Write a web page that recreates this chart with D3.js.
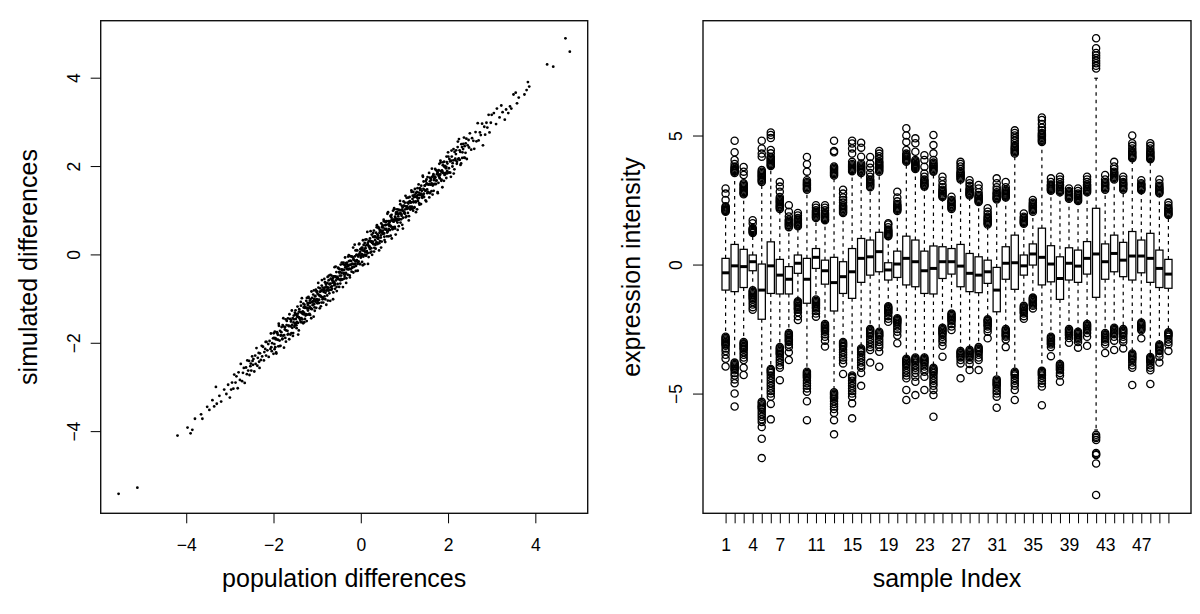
<!DOCTYPE html>
<html>
<head>
<meta charset="utf-8">
<script src="https://cdn.jsdelivr.net/npm/d3@7"></script>
<style>
  body { margin: 0; background: #fff; }
  text { font-family: "Liberation Sans", Arial, Helvetica, sans-serif; fill: #000; }
</style>
</head>
<body>
<svg id="chart" width="1200" height="614"></svg>
<script>
// left panel: population vs simulated differences
const diffPairs = [
  [-5.55,-5.42],[-5.12,-5.28],[-4.2,-4.1],[-3.97,-3.92],[-3.9,-4.05],[-3.86,-3.97],[-3.8,-3.72],[-3.66,-3.62],[-3.63,-3.72],[-3.52,-3.45],[-3.47,-3.52],[-3.4,-3.3],[-3.36,-3.44],[-3.32,-3.0],[-3.3,-3.38],[-3.24,-3.2],[-3.2,-3.33],[-3.13,-3.06],[-3.08,-3.16],[-3.04,-2.95],[-3.0,-3.24],[-2.97,-3.06],
  [-2.95,-2.9],[-2.92,-3.04],[-2.9,-2.72],[-2.87,-2.9],[-2.85,-2.76],[-2.82,-3.03],[-2.8,-2.67],[-2.77,-2.84],[-2.75,-2.48],[-2.72,-2.87],[-2.7,-2.68],[-2.68,-2.57],[-2.66,-2.91],[-2.63,-2.56],[-2.61,-2.71],[-2.6,-2.4],[-2.58,-2.63],[-2.56,-2.41],[-2.55,-2.73],[-2.53,-2.53],[-2.52,-2.47],[-2.51,-2.63],
  [-2.49,-2.31],[-2.47,-2.5],[-2.46,-2.37],[-2.44,-2.65],[-2.42,-2.29],[-2.41,-2.48],[-2.39,-2.12],[-2.37,-2.52],[-2.36,-2.34],[-2.34,-2.23],[-2.32,-2.57],[-2.31,-2.24],[-2.29,-2.39],[-2.27,-2.07],[-2.26,-2.31],[-2.24,-2.09],[-2.22,-2.4],[-2.21,-2.21],[-2.19,-2.14],[-2.17,-2.29],[-2.16,-1.98],[-2.14,-2.17],[-2.12,-2.03],[-2.11,-2.32],[-2.09,-1.96],[-2.07,-2.14],[-2.06,-1.79],[-2.04,-2.19],[-2.03,-2.01],[-2.01,-1.9],[-2.0,-2.25],[-2.48,-2.41],[-2.33,-2.43],[-2.18,-1.98],[-2.05,-2.1],
  [-1.99,-1.89],[-1.98,-2.03],[-1.97,-1.75],[-1.96,-2.1],[-1.95,-1.92],[-1.94,-2.22],[-1.92,-1.76],[-1.91,-1.93],[-1.9,-1.82],[-1.89,-2.08],[-1.88,-1.57],[-1.86,-1.95],[-1.85,-1.73],[-1.84,-2.07],[-1.83,-1.83],[-1.82,-1.76],[-1.8,-1.92],[-1.79,-1.6],[-1.78,-1.84],[-1.77,-1.63],[-1.76,-2.11],[-1.74,-1.7],[-1.73,-1.89],[-1.72,-1.47],[-1.71,-1.72],[-1.7,-1.6],[-1.68,-1.73],[-1.67,-1.45],[-1.66,-1.8],[-1.65,-1.62],[-1.64,-1.92],[-1.62,-1.46],[-1.61,-1.63],[-1.6,-1.52],[-1.59,-1.78],[-1.58,-1.27],[-1.57,-1.66],[-1.56,-1.44],[-1.55,-1.78],[-1.54,-1.54],[-1.53,-1.47],[-1.52,-1.64],[-1.51,-1.32],[-1.5,-1.56],[-1.5,-1.36],
  [-1.49,-1.56],[-1.48,-1.35],[-1.47,-1.67],[-1.46,-1.41],[-1.45,-1.18],[-1.44,-1.55],[-1.43,-1.42],[-1.42,-1.72],[-1.41,-1.24],[-1.4,-1.44],[-1.39,-1.3],[-1.38,-1.53],[-1.37,-1.16],[-1.36,-1.44],[-1.35,-0.99],[-1.34,-1.47],[-1.33,-1.29],[-1.32,-1.56],[-1.31,-1.2],[-1.3,-1.32],[-1.29,-1.14],[-1.28,-1.46],[-1.27,-1.2],[-1.26,-1.36],[-1.25,-1.05],[-1.24,-1.51],[-1.23,-1.21],[-1.22,-1.1],[-1.21,-1.27],[-1.2,-0.96],[-1.19,-1.35],[-1.18,-1.1],[-1.17,-1.18],[-1.16,-1.37],[-1.15,-1.01],[-1.14,-1.23],[-1.13,-0.84],[-1.12,-1.24],[-1.11,-1.08],[-1.1,-1.15],[-1.09,-0.91],[-1.08,-1.41],[-1.07,-1.01],[-1.06,-1.2],[-1.05,-0.95],[-1.04,-1.07],[-1.03,-0.8],[-1.02,-1.21],[-1.01,-1.01],[-1.0,-0.84],
  [-0.99,-0.89],[-0.98,-1.03],[-0.97,-0.75],[-0.96,-1.1],[-0.95,-0.92],[-0.94,-1.22],[-0.93,-0.77],[-0.92,-0.94],[-0.91,-0.83],[-0.9,-1.09],[-0.89,-0.58],[-0.88,-0.97],[-0.87,-0.75],[-0.86,-1.09],[-0.85,-0.85],[-0.84,-0.78],[-0.83,-0.95],[-0.82,-0.63],[-0.81,-0.87],[-0.8,-0.66],[-0.79,-1.14],[-0.78,-0.74],[-0.77,-0.93],[-0.76,-0.51],[-0.75,-0.76],
  [-0.74,-0.75],[-0.73,-0.48],[-0.72,-0.88],[-0.71,-0.67],[-0.7,-1.05],[-0.69,-0.55],[-0.68,-0.74],[-0.67,-0.48],[-0.66,-0.78],[-0.65,-0.59],[-0.64,-0.64],[-0.63,-0.86],[-0.62,-0.5],[-0.61,-0.7],[-0.6,-0.29],[-0.59,-0.78],[-0.58,-0.5],[-0.57,-0.59],[-0.56,-0.4],[-0.55,-0.83],[-0.54,-0.51],[-0.53,-0.67],[-0.52,-0.3],[-0.51,-0.56],[-0.5,-0.4],
  [-0.49,-0.33],[-0.48,-0.48],[-0.47,-0.66],[-0.46,-0.23],[-0.45,-0.48],[-0.44,-0.34],[-0.43,-0.57],[-0.42,-0.36],[-0.41,-0.74],[-0.4,-0.22],[-0.39,-0.44],[-0.38,-0.35],[-0.37,-0.49],[-0.36,-0.07],[-0.35,-0.44],[-0.34,-0.2],[-0.33,-0.54],[-0.32,-0.33],[-0.31,-0.23],[-0.3,-0.46],[-0.29,-0.05],[-0.28,-0.34],[-0.27,-0.15],[-0.26,-0.24],[-0.25,-0.52],[-0.24,-0.04],[-0.23,-0.33],[-0.22,-0.15],[-0.21,-0.39],[-0.2,-0.05],[-0.19,-0.21],[-0.18,-0.07],[-0.17,-0.41],[-0.16,-0.12],[-0.15,-0.28],[-0.14,0.22],[-0.13,-0.21],[-0.12,0.09],[-0.11,-0.26],[-0.1,-0.01],[-0.09,-0.13],[-0.08,0.09],[-0.07,-0.37],[-0.06,-0.05],[-0.05,-0.16],[-0.04,0.23],[-0.03,0.02],[-0.02,-0.22],[-0.01,0.12],[0.0,-0.07],
  [0.01,-0.06],[0.02,0.15],[0.03,-0.17],[0.04,0.09],[0.05,0.32],[0.06,-0.05],[0.07,0.08],[0.08,-0.22],[0.09,0.26],[0.1,0.06],[0.11,0.2],[0.12,-0.03],[0.13,0.34],[0.14,0.06],[0.15,0.51],[0.16,0.03],[0.17,0.21],[0.18,-0.06],[0.19,0.3],[0.2,0.18],[0.21,0.36],[0.22,0.04],[0.23,0.3],[0.24,0.14],[0.25,0.45],[0.26,-0.01],[0.27,0.29],[0.28,0.4],[0.29,0.23],[0.3,0.54],[0.31,0.15],[0.32,0.4],[0.33,0.32],[0.34,0.13],[0.35,0.49],[0.36,0.27],[0.37,0.66],[0.38,0.26],[0.39,0.42],[0.4,0.35],[0.41,0.59],[0.42,0.09],[0.43,0.49],[0.44,0.3],[0.45,0.55],[0.46,0.43],[0.47,0.7],[0.48,0.29],[0.49,0.49],[0.5,0.66],
  [0.51,0.61],[0.52,0.47],[0.53,0.75],[0.54,0.4],[0.55,0.58],[0.56,0.28],[0.57,0.73],[0.58,0.56],[0.59,0.67],[0.6,0.41],[0.61,0.92],[0.62,0.53],[0.63,0.75],[0.64,0.41],[0.65,0.65],[0.66,0.72],[0.67,0.55],[0.68,0.87],[0.69,0.63],[0.7,0.84],[0.71,0.36],[0.72,0.76],[0.73,0.57],[0.74,0.99],[0.75,0.74],
  [0.76,0.75],[0.77,1.02],[0.78,0.62],[0.79,0.83],[0.8,0.45],[0.81,0.95],[0.82,0.76],[0.83,1.02],[0.84,0.72],[0.85,0.91],[0.86,0.86],[0.87,0.64],[0.88,1.0],[0.89,0.8],[0.9,1.21],[0.91,0.72],[0.92,1.0],[0.93,0.91],[0.94,1.1],[0.95,0.67],[0.96,0.99],[0.97,0.83],[0.98,1.2],[0.99,0.94],[1.0,1.1],
  [1.01,1.17],[1.02,1.02],[1.03,0.84],[1.05,1.28],[1.06,1.03],[1.07,1.17],[1.08,0.94],[1.09,1.15],[1.1,0.77],[1.12,1.3],[1.13,1.08],[1.14,1.17],[1.15,1.03],[1.16,1.45],[1.17,1.08],[1.19,1.33],[1.2,0.99],[1.21,1.2],[1.22,1.3],[1.23,1.07],[1.24,1.48],[1.26,1.2],[1.27,1.39],[1.28,1.3],[1.29,1.02],[1.3,1.5],[1.31,1.21],[1.33,1.4],[1.34,1.16],[1.35,1.5],[1.36,1.34],[1.37,1.48],[1.38,1.14],[1.4,1.44],[1.41,1.28],[1.42,1.78],[1.43,1.35],[1.44,1.65],[1.45,1.3],[1.47,1.56],[1.48,1.44],[1.49,1.66],[1.5,1.2],
  [1.51,1.61],[1.52,1.47],[1.53,1.75],[1.55,1.41],[1.56,1.59],[1.57,1.29],[1.58,1.74],[1.6,1.58],[1.61,1.69],[1.62,1.43],[1.63,1.94],[1.65,1.56],[1.66,1.78],[1.67,1.44],[1.68,1.68],[1.7,1.76],[1.71,1.59],[1.72,1.91],[1.73,1.67],[1.75,1.89],[1.76,1.41],[1.77,1.81],[1.78,1.62],[1.8,2.05],[1.81,1.8],
  [1.82,1.81],[1.83,2.08],[1.85,1.69],[1.86,1.9],[1.87,1.52],[1.88,2.02],[1.9,1.84],[1.91,2.1],[1.92,1.8],[1.93,1.99],[1.95,1.95],[1.96,1.73],[1.97,2.09],[1.98,1.89],[2.0,2.31],
  [2.02,1.95],[2.03,2.16],[2.05,1.85],[2.07,2.12],[2.08,2.35],[2.1,1.99],[2.12,2.13],[2.13,1.83],[2.15,2.32],[2.17,2.13],[2.18,2.27],[2.2,2.05],[2.22,2.43],[2.23,2.15],[2.25,2.61],[2.27,2.14],[2.28,2.32],[2.3,2.06],[2.32,2.43],[2.33,2.31],[2.35,2.5],[2.37,2.19],[2.38,2.45],[2.4,2.3],[2.42,2.62],[2.43,2.16],[2.45,2.47],[2.47,2.59],[2.48,2.42],[2.5,2.74],
  [2.53,2.37],[2.55,2.63],[2.58,2.57],[2.6,2.39],[2.63,2.77],[2.65,2.56],[2.68,2.97],[2.7,2.58],[2.73,2.76],[2.75,2.7],[2.78,2.96],[2.8,2.47],[2.83,2.89],[2.85,2.71],[2.88,2.98],[2.9,2.87],[2.93,3.16],[2.95,2.76],[2.98,2.98],[3.0,3.16],
  [3.05,3.2],[3.1,2.95],[3.12,3.3],[3.18,3.1],[3.22,3.37],[3.25,3.22],[3.3,3.05],[3.33,3.28],[3.38,3.2],[3.42,3.35],[3.45,3.3],[3.5,3.62],[3.55,3.66],[3.58,3.42],[3.62,3.55],[3.75,3.62],[3.8,3.72],[3.83,3.9],[3.86,3.8],[4.27,4.3],[4.41,4.25],[4.69,4.89],[4.79,4.59]
];
// extra points filling the dense middle of the cloud
const diffCore = [
  [-1.995,-1.785],[-1.975,-2.145],[-1.955,-1.895],[-1.935,-2.245],[-1.915,-1.785],[-1.895,-1.935],[-1.875,-1.615],[-1.855,-2.075],[-1.835,-1.835],[-1.815,-1.645],[-1.795,-1.905],[-1.775,-1.445],[-1.755,-1.825],[-1.735,-1.645],[-1.715,-1.975],[-1.695,-1.505],[-1.675,-1.815],[-1.655,-1.615],[-1.635,-1.355],[-1.615,-1.815],
  [-1.595,-1.485],[-1.575,-1.595],[-1.555,-1.845],[-1.535,-1.385],[-1.515,-1.605],[-1.495,-1.265],[-1.475,-1.605],[-1.455,-1.385],[-1.435,-1.815],[-1.415,-1.295],[-1.395,-1.455],[-1.375,-1.075],[-1.355,-1.535],[-1.335,-1.315],[-1.315,-1.115],[-1.295,-1.535],[-1.275,-1.195],[-1.255,-1.355],[-1.235,-0.985],[-1.215,-1.365],
  [-1.195,-0.985],[-1.175,-1.345],[-1.155,-1.095],[-1.135,-1.445],[-1.115,-0.985],[-1.095,-1.135],[-1.075,-0.815],[-1.055,-1.275],[-1.035,-1.035],[-1.015,-0.845],[-0.995,-1.105],[-0.975,-0.645],[-0.955,-1.025],[-0.935,-0.845],[-0.915,-1.175],[-0.895,-0.705],[-0.875,-1.015],[-0.855,-0.815],[-0.835,-0.555],[-0.815,-1.015],
  [-0.795,-0.685],[-0.775,-0.795],[-0.755,-1.045],[-0.735,-0.585],[-0.715,-0.805],[-0.695,-0.465],[-0.675,-0.805],[-0.655,-0.585],[-0.635,-1.015],[-0.615,-0.495],[-0.595,-0.655],[-0.575,-0.275],[-0.555,-0.735],[-0.535,-0.515],[-0.515,-0.315],[-0.495,-0.735],[-0.475,-0.395],[-0.455,-0.555],[-0.435,-0.185],[-0.415,-0.565],
  [-0.395,-0.185],[-0.375,-0.545],[-0.355,-0.295],[-0.335,-0.645],[-0.315,-0.185],[-0.295,-0.335],[-0.275,-0.015],[-0.255,-0.475],[-0.235,-0.235],[-0.215,-0.045],[-0.195,-0.305],[-0.175,0.155],[-0.155,-0.225],[-0.135,-0.045],[-0.115,-0.375],[-0.095,0.095],[-0.075,-0.215],[-0.055,-0.015],[-0.035,0.245],[-0.015,-0.215],
  [0.005,0.115],[0.025,0.005],[0.045,-0.245],[0.065,0.215],[0.085,-0.005],[0.105,0.335],[0.125,-0.005],[0.145,0.215],[0.165,-0.215],[0.185,0.305],[0.205,0.145],[0.225,0.525],[0.245,0.065],[0.265,0.285],[0.285,0.485],[0.305,0.065],[0.325,0.405],[0.345,0.245],[0.365,0.615],[0.385,0.235],
  [0.405,0.615],[0.425,0.255],[0.445,0.505],[0.465,0.155],[0.485,0.615],[0.505,0.465],[0.525,0.785],[0.545,0.325],[0.565,0.565],[0.585,0.755],[0.605,0.495],[0.625,0.955],[0.645,0.575],[0.665,0.755],[0.685,0.425],[0.705,0.895],[0.725,0.585],[0.745,0.785],[0.765,1.045],[0.785,0.585],
  [0.805,0.915],[0.825,0.805],[0.845,0.555],[0.865,1.015],[0.885,0.795],[0.905,1.135],[0.925,0.795],[0.945,1.015],[0.965,0.585],[0.985,1.105],[1.005,0.945],[1.025,1.325],[1.045,0.865],[1.065,1.085],[1.085,1.285],[1.105,0.865],[1.125,1.205],[1.145,1.045],[1.165,1.415],[1.185,1.035],
  [1.205,1.415],[1.225,1.055],[1.245,1.305],[1.265,0.955],[1.285,1.415],[1.305,1.265],[1.325,1.585],[1.345,1.125],[1.365,1.365],[1.385,1.555],[1.405,1.295],[1.425,1.755],[1.445,1.375],[1.465,1.555],[1.485,1.225],[1.505,1.695],[1.525,1.385],[1.545,1.585],[1.565,1.845],[1.585,1.385],
  [1.605,1.715],[1.625,1.605],[1.645,1.355],[1.665,1.815],[1.685,1.595],[1.705,1.935],[1.725,1.595],[1.745,1.815],[1.765,1.385],[1.785,1.905],[1.805,1.745],[1.825,2.125],[1.845,1.665],[1.865,1.885],[1.885,2.085],[1.905,1.665],[1.925,2.005],[1.945,1.845],[1.965,2.215],[1.985,1.835],
  [2.005,2.215],[2.025,1.855],[2.045,2.105],[2.065,1.755],[2.085,2.215],[2.105,2.065],[2.125,2.385],[2.145,1.925],[2.165,2.165],[2.185,2.355],[2.205,2.095],[2.225,2.555],[2.245,2.175],[2.265,2.355],[2.285,2.025],[2.305,2.495],[2.325,2.185],[2.345,2.385],[2.365,2.645],[2.385,2.185],[2.405,2.515],
  [-1.49,-1.46],[-1.465,-1.525],[-1.44,-1.34],[-1.415,-1.425],[-1.39,-1.48],[-1.365,-1.315],[-1.34,-1.34],[-1.315,-1.355],[-1.29,-1.21],[-1.265,-1.385],[-1.24,-1.22],[-1.215,-1.145],[-1.19,-1.22],[-1.165,-1.045],[-1.14,-1.22],[-1.115,-1.075],
  [-1.09,-1.06],[-1.065,-1.125],[-1.04,-0.94],[-1.015,-1.025],[-0.99,-1.08],[-0.965,-0.915],[-0.94,-0.94],[-0.915,-0.955],[-0.89,-0.81],[-0.865,-0.985],[-0.84,-0.82],[-0.815,-0.745],[-0.79,-0.82],[-0.765,-0.645],[-0.74,-0.82],[-0.715,-0.675],
  [-0.69,-0.66],[-0.665,-0.725],[-0.64,-0.54],[-0.615,-0.625],[-0.59,-0.68],[-0.565,-0.515],[-0.54,-0.54],[-0.515,-0.555],[-0.49,-0.41],[-0.465,-0.585],[-0.44,-0.42],[-0.415,-0.345],[-0.39,-0.42],[-0.365,-0.245],[-0.34,-0.42],[-0.315,-0.275],
  [-0.29,-0.26],[-0.265,-0.325],[-0.24,-0.14],[-0.215,-0.225],[-0.19,-0.28],[-0.165,-0.115],[-0.14,-0.14],[-0.115,-0.155],[-0.09,-0.01],[-0.065,-0.185],[-0.04,-0.02],[-0.015,0.055],[0.01,-0.02],[0.035,0.155],[0.06,-0.02],[0.085,0.125],
  [0.11,0.14],[0.135,0.075],[0.16,0.26],[0.185,0.175],[0.21,0.12],[0.235,0.285],[0.26,0.26],[0.285,0.245],[0.31,0.39],[0.335,0.215],[0.36,0.38],[0.385,0.455],[0.41,0.38],[0.435,0.555],[0.46,0.38],[0.485,0.525],
  [0.51,0.54],[0.535,0.475],[0.56,0.66],[0.585,0.575],[0.61,0.52],[0.635,0.685],[0.66,0.66],[0.685,0.645],[0.71,0.79],[0.735,0.615],[0.76,0.78],[0.785,0.855],[0.81,0.78],[0.835,0.955],[0.86,0.78],[0.885,0.925],
  [0.91,0.94],[0.935,0.875],[0.96,1.06],[0.985,0.975],[1.01,0.92],[1.035,1.085],[1.06,1.06],[1.085,1.045],[1.11,1.19],[1.135,1.015],[1.16,1.18],[1.185,1.255],[1.21,1.18],[1.235,1.355],[1.26,1.18],[1.285,1.325],
  [1.31,1.34],[1.335,1.275],[1.36,1.46],[1.385,1.375],[1.41,1.32],[1.435,1.485],[1.46,1.46],[1.485,1.445],[1.51,1.59],[1.535,1.415],[1.56,1.58],[1.585,1.655],[1.61,1.58],[1.635,1.755],[1.66,1.58],[1.685,1.725],
  [1.71,1.74],[1.735,1.675],[1.76,1.86],[1.785,1.775],[1.81,1.72],[1.835,1.885],[1.86,1.86],[1.885,1.845],[1.91,1.99],[1.935,1.815],[1.96,1.98],[1.985,2.055]
];
const popTicks = [-4, -2, 0, 2, 4];
const simTicks = [-4, -2, 0, 2, 4];

// right panel: one box per sample
const sampleIndex = [1,2,3,4,5,6,7,8,9,10,11,12,13,14,15,16,17,18,19,20,21,22,23,24,25,26,27,28,29,30,31,32,33,34,35,36,37,38,39,40,41,42,43,44,45,46,47,48,49,50];
const indexLabels = [1, 4, 7, 11, 15, 19, 23, 27, 31, 35, 39, 43, 47];
const intensityTicks = [-5, 0, 5];
const boxQ1 = [-0.99,-1.05,-0.89,-0.24,-2.12,-1.12,-1.14,-1.14,-0.34,-1.5,-0.15,-0.76,-1.8,-1.12,-1.31,-0.69,-0.41,-0.28,-0.6,-0.5,-0.79,-0.86,-1.12,-1.14,-0.54,-0.37,-0.86,-1.05,-1.09,-0.73,-1.83,-0.57,-0.96,-0.41,-0.02,-0.79,-0.67,-1.35,-0.6,-0.69,-0.37,-1.27,-0.57,-0.28,-0.47,-0.6,-0.32,-0.69,-0.89,-0.92];
const boxMedian = [-0.32,-0.05,-0.08,0.11,-0.99,-0.05,-0.41,-0.57,0.05,-0.57,0.28,-0.24,-0.7,-0.47,-0.28,0.24,0.3,0.5,-0.21,0.02,0.24,0.11,-0.24,-0.15,0.11,0.11,-0.06,-0.34,-0.41,-0.28,-0.99,0.05,0.07,-0.05,0.41,0.28,0.02,-0.54,0.05,-0.06,0.24,0.41,0.11,0.43,0.17,0.33,0.33,0.24,-0.15,-0.37];
const boxQ3 = [0.24,0.78,0.59,0.37,0.02,0.88,0.2,-0.08,0.37,0.24,0.62,0.17,0.28,0.11,0.62,1.01,0.95,1.25,0.07,0.52,1.1,0.95,0.52,0.72,0.69,0.62,0.78,0.43,0.3,0.17,-0.11,0.69,1.14,0.37,0.8,1.41,0.73,0.3,0.65,0.56,0.89,2.18,0.8,1.14,0.86,1.28,0.95,1.21,0.56,0.2];
const whiskerLow = [-2.72,-3.75,-2.95,-0.95,-5.25,-3.95,-3.12,-2.6,-1.38,-4.1,-1.28,-2.25,-4.9,-2.92,-4.25,-3.2,-2.42,-2.52,-1.58,-2.02,-3.6,-3.56,-3.55,-3.92,-2.38,-1.85,-3.3,-3.25,-3.15,-2.05,-4.4,-2.45,-4.1,-1.56,-1.24,-4.05,-2.76,-3.8,-2.45,-2.55,-2.25,-6.41,-2.6,-2.4,-2.45,-3.4,-2.2,-3.52,-3.05,-2.58];
const whiskerHigh = [1.95,3.5,2.68,1.15,3.15,3.77,2.1,1.4,1.42,2.85,1.72,1.68,3.38,1.92,3.55,3.5,2.9,3.52,1.05,2.04,3.92,3.65,2.96,3.5,2.55,2.1,3.22,2.62,2.38,1.5,2.45,2.55,4.25,1.52,2.0,4.68,2.8,2.75,2.5,2.42,2.76,7.22,2.85,3.25,2.84,4.08,2.82,4.0,2.72,1.86];
const outliersHigh = [
  [2.05,2.08,2.11,2.14,2.18,2.22,2.26,2.5,2.75,2.95],
  [3.55,3.6,3.63,3.66,3.7,3.75,3.8,3.9,4.05,4.35,4.8],
  [2.72,2.76,2.8,2.85,2.9,2.95,3.0,3.05,3.1,3.15,3.47,3.6,3.78],
  [1.22,1.26,1.3,1.34,1.38,1.42,1.6,1.72],
  [3.2,3.25,3.3,3.35,3.4,3.45,3.5,3.55,3.6,3.66,4.18,4.3,4.5,4.8],
  [3.82,3.86,3.9,3.95,4.0,4.05,4.1,4.15,4.18,4.31,4.44,4.9,5.02,5.12],
  [2.15,2.2,2.25,2.3,2.35,2.4,2.45,2.5,2.55,2.62,2.82,3.02,3.2],
  [1.45,1.5,1.55,1.6,1.65,1.7,1.75,1.86,2.05,2.3],
  [1.48,1.52,1.56,1.6,1.65,1.7,1.75,1.8,1.9,2.0],
  [2.9,2.95,3.0,3.05,3.1,3.15,3.2,3.27,3.6,3.89,4.17],
  [1.8,1.85,1.9,1.95,2.0,2.05,2.1,2.2,2.3],
  [1.72,1.76,1.8,1.85,1.9,1.95,2.0,2.1,2.2,2.3],
  [3.45,3.5,3.55,3.6,3.65,3.7,3.75,3.8,4.35,4.4,4.8],
  [2.0,2.05,2.1,2.15,2.2,2.25,2.3,2.4,2.5,2.6,2.75,2.9],
  [3.62,3.66,3.7,3.75,3.8,3.85,3.9,3.98,4.3,4.5,4.69,4.8],
  [3.55,3.6,3.65,3.7,3.75,3.8,3.85,3.92,4.18,4.53,4.72],
  [3.0,3.05,3.1,3.15,3.2,3.25,3.3,3.4,3.55,3.75,3.92,4.17],
  [3.6,3.65,3.7,3.75,3.8,3.85,3.9,3.95,4.0,4.1,4.2,4.3,4.4],
  [1.1,1.13,1.16,1.2,1.24,1.28,1.32,1.36,1.45,1.55,1.6],
  [2.08,2.12,2.16,2.2,2.25,2.3,2.35,2.45,2.6,2.82],
  [3.98,4.02,4.06,4.1,4.15,4.2,4.25,4.3,4.44,4.75,5.0,5.28],
  [3.7,3.74,3.78,3.82,3.86,3.9,3.95,4.0,4.05,4.37,4.7,4.89],
  [3.02,3.06,3.1,3.15,3.2,3.25,3.3,3.4,3.53,3.79,4.05,4.24],
  [3.6,3.65,3.7,3.75,3.8,3.85,3.9,3.95,4.05,4.31,4.63,5.02],
  [2.62,2.66,2.7,2.75,2.8,2.85,2.9,3.0,3.1,3.25,3.4],
  [2.15,2.2,2.25,2.3,2.35,2.4,2.45,2.5,2.63],
  [3.3,3.35,3.4,3.45,3.5,3.55,3.6,3.7,3.8,3.9,3.98],
  [2.68,2.72,2.76,2.8,2.85,2.9,2.95,3.05,3.15,3.27],
  [2.42,2.46,2.5,2.55,2.6,2.65,2.7,2.8,2.95,3.08],
  [1.55,1.6,1.65,1.7,1.75,1.8,1.85,1.95,2.05,2.18],
  [2.52,2.56,2.6,2.65,2.7,2.75,2.8,2.9,3.0,3.15,3.34],
  [2.6,2.64,2.68,2.72,2.76,2.8,2.85,2.9,3.0,3.2],
  [4.3,4.35,4.4,4.45,4.5,4.55,4.6,4.7,4.8,4.9,5.0,5.1,5.2],
  [1.58,1.62,1.66,1.7,1.75,1.8,1.85,1.98],
  [2.05,2.1,2.15,2.2,2.25,2.3,2.35,2.4,2.5],
  [4.75,4.8,4.85,4.9,4.95,5.0,5.05,5.1,5.2,5.3,5.45,5.6,5.7],
  [2.86,2.9,2.94,2.98,3.02,3.06,3.1,3.2,3.34],
  [2.8,2.85,2.9,2.95,3.0,3.05,3.1,3.2,3.3,3.4],
  [2.55,2.6,2.65,2.7,2.75,2.8,2.85,2.95],
  [2.46,2.5,2.55,2.6,2.65,2.7,2.75,2.85,2.95],
  [2.8,2.85,2.9,2.95,3.0,3.05,3.1,3.2,3.3,3.4],
  [7.6,7.7,7.8,7.9,8.0,8.1,8.2,8.38,8.77],
  [2.9,2.95,3.0,3.05,3.1,3.15,3.2,3.3,3.47],
  [3.3,3.35,3.4,3.45,3.5,3.55,3.6,3.7,3.8,3.98],
  [2.9,2.95,3.0,3.05,3.1,3.15,3.2,3.3,3.4],
  [4.12,4.16,4.2,4.25,4.3,4.35,4.4,4.5,4.6,4.7,5.0],
  [2.88,2.92,2.96,3.0,3.05,3.1,3.15,3.27],
  [4.08,4.12,4.16,4.2,4.25,4.3,4.35,4.4,4.5,4.6,4.7],
  [2.76,2.8,2.85,2.9,2.95,3.0,3.05,3.15,3.3],
  [1.92,1.96,2.0,2.05,2.1,2.15,2.2,2.3,2.4]
];
const outliersLow = [
  [-2.8,-2.85,-2.9,-2.95,-3.0,-3.05,-3.1,-3.15,-3.25,-3.35,-3.5,-3.65,-3.95],
  [-3.8,-3.85,-3.9,-3.95,-4.0,-4.05,-4.1,-4.2,-4.3,-4.45,-4.6,-5.0,-5.5],
  [-3.0,-3.05,-3.1,-3.15,-3.2,-3.25,-3.3,-3.4,-3.5,-3.6,-3.7,-4.0,-4.28],
  [-1.0,-1.05,-1.1,-1.15,-1.2,-1.25,-1.3,-1.35,-1.45,-1.55,-1.65,-1.75],
  [-5.32,-5.38,-5.45,-5.5,-5.55,-5.6,-5.7,-5.8,-5.9,-6.0,-6.1,-6.3,-6.75,-7.5],
  [-4.05,-4.1,-4.15,-4.2,-4.3,-4.4,-4.5,-4.6,-4.7,-4.8,-4.9,-5.0,-5.12,-5.4,-6.0],
  [-3.2,-3.25,-3.3,-3.35,-3.4,-3.45,-3.5,-3.6,-3.7,-3.8,-3.9,-4.0,-4.48],
  [-2.65,-2.7,-2.75,-2.8,-2.85,-2.9,-2.95,-3.0,-3.1,-3.2,-3.4,-3.7],
  [-1.42,-1.46,-1.5,-1.55,-1.6,-1.65,-1.7,-1.75,-1.85,-2.0,-2.15],
  [-4.15,-4.2,-4.25,-4.3,-4.35,-4.4,-4.5,-4.6,-4.7,-4.8,-4.93,-5.3,-6.03],
  [-1.35,-1.4,-1.45,-1.5,-1.55,-1.6,-1.65,-1.7,-1.8,-1.9,-2.02],
  [-2.3,-2.35,-2.4,-2.45,-2.5,-2.55,-2.6,-2.7,-2.8,-2.95,-3.18],
  [-4.95,-5.0,-5.05,-5.1,-5.15,-5.2,-5.3,-5.4,-5.5,-5.6,-5.75,-6.03,-6.58],
  [-3.0,-3.05,-3.1,-3.15,-3.2,-3.3,-3.4,-3.5,-3.6,-3.7,-3.83,-4.24],
  [-4.3,-4.35,-4.4,-4.5,-4.6,-4.7,-4.8,-4.9,-5.0,-5.12,-5.38,-5.96],
  [-3.25,-3.3,-3.35,-3.4,-3.5,-3.6,-3.7,-3.8,-3.9,-4.0,-4.2,-4.7],
  [-2.5,-2.55,-2.6,-2.65,-2.7,-2.8,-2.9,-3.0,-3.1,-3.2,-3.31,-3.8],
  [-2.6,-2.65,-2.7,-2.75,-2.8,-2.9,-3.0,-3.1,-3.2,-3.38,-3.96],
  [-1.62,-1.66,-1.7,-1.75,-1.8,-1.85,-1.9,-2.0,-2.1,-2.22],
  [-2.08,-2.12,-2.16,-2.2,-2.25,-2.3,-2.4,-2.5,-2.6,-2.75,-3.05],
  [-3.65,-3.7,-3.75,-3.8,-3.85,-3.9,-4.0,-4.1,-4.2,-4.3,-4.41,-4.86,-5.25],
  [-3.6,-3.65,-3.7,-3.75,-3.8,-3.9,-4.0,-4.1,-4.2,-4.35,-4.54,-5.06],
  [-3.6,-3.65,-3.7,-3.75,-3.8,-3.85,-3.95,-4.05,-4.15,-4.35,-4.86],
  [-4.0,-4.05,-4.1,-4.15,-4.2,-4.3,-4.4,-4.5,-4.6,-4.7,-4.86,-5.06,-5.9],
  [-2.45,-2.5,-2.55,-2.6,-2.65,-2.7,-2.8,-2.9,-3.0,-3.15,-3.57],
  [-1.9,-1.95,-2.0,-2.05,-2.1,-2.15,-2.2,-2.3,-2.4,-2.54],
  [-3.35,-3.4,-3.45,-3.5,-3.55,-3.6,-3.7,-3.83,-4.41],
  [-3.3,-3.35,-3.4,-3.45,-3.5,-3.55,-3.6,-3.7,-3.85,-4.09],
  [-3.2,-3.25,-3.3,-3.35,-3.4,-3.5,-3.6,-3.7,-4.09],
  [-2.12,-2.16,-2.2,-2.25,-2.3,-2.35,-2.4,-2.5,-2.6,-2.86],
  [-4.45,-4.5,-4.55,-4.6,-4.65,-4.7,-4.8,-4.9,-5.0,-5.12,-5.55],
  [-2.5,-2.55,-2.6,-2.65,-2.7,-2.75,-2.8,-2.9,-3.2],
  [-4.15,-4.2,-4.25,-4.3,-4.4,-4.5,-4.6,-4.7,-4.86,-5.25],
  [-1.6,-1.65,-1.7,-1.75,-1.8,-1.85,-1.9,-2.0,-2.1],
  [-1.28,-1.32,-1.36,-1.4,-1.45,-1.5,-1.55,-1.6,-1.7],
  [-4.12,-4.16,-4.2,-4.25,-4.3,-4.4,-4.5,-4.6,-4.73,-5.45],
  [-2.8,-2.85,-2.9,-2.95,-3.0,-3.05,-3.1,-3.2,-3.55],
  [-3.85,-3.9,-3.95,-4.0,-4.05,-4.1,-4.2,-4.3,-4.54],
  [-2.5,-2.55,-2.6,-2.65,-2.7,-2.75,-2.85,-3.03],
  [-2.6,-2.65,-2.7,-2.75,-2.8,-2.85,-2.9,-3.0,-3.22],
  [-2.3,-2.35,-2.4,-2.45,-2.5,-2.55,-2.65,-2.8,-3.15],
  [-6.6,-6.67,-6.72,-6.8,-7.3,-7.35,-7.38,-7.71,-8.93],
  [-2.65,-2.7,-2.75,-2.8,-2.85,-2.9,-3.0,-3.1,-3.43],
  [-2.45,-2.5,-2.55,-2.6,-2.65,-2.7,-2.8,-2.95,-3.31],
  [-2.5,-2.55,-2.6,-2.65,-2.7,-2.8,-2.9,-3.0,-3.25],
  [-3.45,-3.5,-3.55,-3.6,-3.65,-3.7,-3.8,-3.9,-4.0,-4.67],
  [-2.25,-2.3,-2.35,-2.4,-2.45,-2.5,-2.55,-2.86],
  [-3.58,-3.62,-3.66,-3.7,-3.75,-3.8,-3.9,-4.0,-4.1,-4.63],
  [-3.1,-3.15,-3.2,-3.25,-3.3,-3.35,-3.45,-3.57,-3.8],
  [-2.62,-2.66,-2.7,-2.75,-2.8,-2.9,-3.0,-3.1,-3.35]
];

//layout
const plotTop = 20.7;
const plotBottom = 513.3;
const tickFont = 17.5;
const titleFont = 25;
const minus = (d) => (d < 0 ? "\u2212" + Math.abs(d) : String(d));

const svg = d3.select("#chart");

const xL = d3.scaleLinear().domain([-5.96, 5.2]).range([100.7, 587.7]);
const yL = d3.scaleLinear().domain([-5.86, 5.29]).range([plotBottom, plotTop]);
const xR = d3.scaleLinear().domain([-1.5, 52.5]).range([703, 1191]);
const yR = d3.scaleLinear().domain([-9.64, 9.45]).range([plotBottom, plotTop]);

function bottomAxis(scale, values, fmt) {
    const g = svg.append("g").attr("transform", "translate(0," + plotBottom + ")");
    g.call(d3.axisBottom(scale).tickValues(values).tickFormat(fmt).tickSize(10).tickPadding(15));
    g.select(".domain").remove();
    g.selectAll("line").attr("stroke", "#000");
    g.selectAll("text").attr("font-size", tickFont).attr("font-family", null);
    return g;
}

function leftAxis(scale, x0, values) {
    const g = svg.append("g").attr("transform", "translate(" + x0 + ",0)");
    g.call(d3.axisLeft(scale).tickValues(values).tickFormat(minus).tickSize(10));
    g.select(".domain").remove();
    g.selectAll("line").attr("stroke", "#000");
    g.selectAll("text")
        .attr("font-size", tickFont)
        .attr("font-family", null)
        .attr("x", 0)
        .attr("y", -27)
        .attr("dy", "0.35em")
        .attr("text-anchor", "middle")
        .attr("transform", "rotate(-90)");
    return g;
}

function frame(x0, x1) {
    svg.append("rect")
        .attr("x", x0).attr("y", plotTop)
        .attr("width", x1 - x0).attr("height", plotBottom - plotTop)
        .attr("fill", "none").attr("stroke", "#111").attr("stroke-width", 1.4);
}

function titles(xText, xc, yText, yx) {
    svg.append("text")
        .attr("x", xc).attr("y", 587)
        .attr("text-anchor", "middle").attr("font-size", titleFont)
        .text(xText);
    svg.append("text")
        .attr("transform", "translate(" + yx + "," + (plotTop + plotBottom) / 2 + ") rotate(-90)")
        .attr("dy", "0.35em")
        .attr("text-anchor", "middle").attr("font-size", titleFont)
        .text(yText);
}

//scatter
svg.append("g")
    .selectAll("circle")
    .data(diffPairs.concat(diffCore))
    .enter()
    .append("circle")
    .attr("cx", (d) => xL(d[0]))
    .attr("cy", (d) => yL(d[1]))
    .attr("r", 1.4)
    .attr("fill", "#000");

frame(100.7, 587.7);
bottomAxis(xL, popTicks, minus);
leftAxis(yL, 100.7, simTicks);
titles("population differences", (100.7 + 587.7) / 2, "simulated differences", 28.7);

//boxplots
const step = xR(2) - xR(1);
const boxW = 0.8 * step;
const boxes = sampleIndex.map((s, i) => ({
    s: s,
    q1: boxQ1[i],
    med: boxMedian[i],
    q3: boxQ3[i],
    lo: whiskerLow[i],
    hi: whiskerHigh[i],
    out: outliersHigh[i].concat(outliersLow[i])
}));

const bx = svg.append("g")
    .selectAll("g")
    .data(boxes)
    .enter()
    .append("g")
    .attr("transform", (d) => "translate(" + xR(d.s) + ",0)");

//dashed whiskers
bx.append("line")
    .attr("y1", (d) => yR(d.q3)).attr("y2", (d) => yR(d.hi))
    .attr("stroke", "#000").attr("stroke-width", 1.2).attr("stroke-dasharray", "3.5,4");
bx.append("line")
    .attr("y1", (d) => yR(d.q1)).attr("y2", (d) => yR(d.lo))
    .attr("stroke", "#000").attr("stroke-width", 1.2).attr("stroke-dasharray", "3.5,4");

//staples
["hi", "lo"].forEach(function (k) {
    bx.append("line")
        .attr("x1", -boxW / 4).attr("x2", boxW / 4)
        .attr("y1", (d) => yR(d[k])).attr("y2", (d) => yR(d[k]))
        .attr("stroke", "#000").attr("stroke-width", 1.2);
});

bx.append("rect")
    .attr("x", -boxW / 2)
    .attr("y", (d) => yR(d.q3))
    .attr("width", boxW)
    .attr("height", (d) => yR(d.q1) - yR(d.q3))
    .attr("fill", "#fff").attr("stroke", "#000").attr("stroke-width", 1.25);

bx.append("line")
    .attr("x1", -boxW / 2).attr("x2", boxW / 2)
    .attr("y1", (d) => yR(d.med)).attr("y2", (d) => yR(d.med))
    .attr("stroke", "#000").attr("stroke-width", 3);

bx.selectAll("circle")
    .data((d) => d.out)
    .enter()
    .append("circle")
    .attr("cy", (d) => yR(d))
    .attr("r", 3.6)
    .attr("fill", "none").attr("stroke", "#000").attr("stroke-width", 1.3);

frame(703, 1191);
bottomAxis(xR, sampleIndex, (d) => (indexLabels.includes(d) ? String(d) : ""));
leftAxis(yR, 703, intensityTicks);
titles("sample Index", (703 + 1191) / 2, "expression intensity", 631);
</script>
</body>
</html>
